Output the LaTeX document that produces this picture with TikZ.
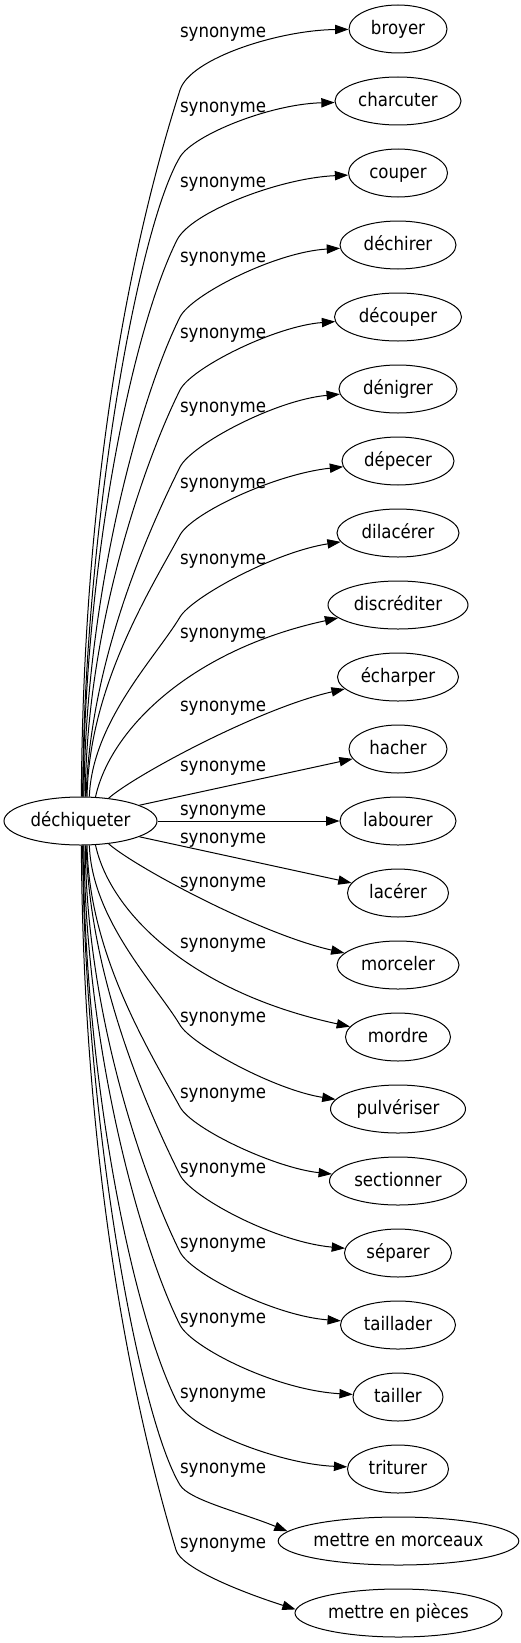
\documentclass[tikz,border=0pt]{standalone}
\usepackage{fontspec}
\newfontfamily\gvfont{DejaVu Sans}[FakeStretch=0.89]
\usetikzlibrary{arrows.meta,shapes.geometric}
\begin{document}
\begin{tikzpicture}[x=1pt,y=-1pt,
  every node/.style={font=\gvfont\fontsize{18.67}{22}\selectfont},
  word/.style={draw, ellipse, line width=1pt, inner sep=0pt, minimum height=48pt, text height=14pt, text depth=3pt},
  lbl/.style={anchor=base, inner sep=0pt},
  syn/.style={line width=1pt, -{Triangle[length=13.3pt,width=9.3pt]}}]
\useasboundingbox (0,0) rectangle (521,1643);
\node[word, minimum width=153pt] (src) at (80.5,821) {déchiqueter};
\node[word, minimum width=98pt]  (n1)  at (398,29)   {broyer};
\node[word, minimum width=126pt] (n2)  at (398,101)  {charcuter};
\node[word, minimum width=99pt]  (n3)  at (398,173)  {couper};
\node[word, minimum width=116pt] (n4)  at (398,245)  {déchirer};
\node[word, minimum width=127pt] (n5)  at (398,317)  {découper};
\node[word, minimum width=118pt] (n6)  at (398,389)  {dénigrer};
\node[word, minimum width=112pt] (n7)  at (398,461)  {dépecer};
\node[word, minimum width=122pt] (n8)  at (398,533)  {dilacérer};
\node[word, minimum width=140pt] (n9)  at (398,605)  {discréditer};
\node[word, minimum width=121pt] (n10) at (398,677)  {écharper};
\node[word, minimum width=98pt]  (n11) at (398,749)  {hacher};
\node[word, minimum width=116pt] (n12) at (398,821)  {labourer};
\node[word, minimum width=101pt] (n13) at (398,893)  {lacérer};
\node[word, minimum width=122pt] (n14) at (398,965)  {morceler};
\node[word, minimum width=105pt] (n15) at (398,1037) {mordre};
\node[word, minimum width=135pt] (n16) at (398,1109) {pulvériser};
\node[word, minimum width=137pt] (n17) at (398,1181) {sectionner};
\node[word, minimum width=107pt] (n18) at (398,1253) {séparer};
\node[word, minimum width=115pt] (n19) at (398,1325) {taillader};
\node[word, minimum width=90pt]  (n20) at (398,1397) {tailler};
\node[word, minimum width=101pt] (n21) at (398,1469) {triturer};
\node[word, minimum width=235pt] (n22) at (398.5,1541) {mettre en morceaux};
\node[word, minimum width=207pt] (n23) at (398.5,1613) {mettre en pièces};
% labels
\foreach \b [count=\i] in {38,113,187,262,338,412,488,564,638,711,771,815,843,887,948,1022,1098,1173,1248,1323,1398,1473,1548}
  \node[lbl] (l\i) at (223,\b) {synonyme};
% upper edges
\draw[syn] (src.88) .. controls (83,500) and (125.6,260) .. (180,90) .. controls (190.2,58) and (280,30) .. (n1);
\draw[syn] (src.85) .. controls (84,528) and (138,227) .. (180,157) .. controls (193.2,135) and (270,104) .. (n2);
\draw[syn] (src.84) .. controls (84.5,563) and (132,330) .. (177,240) .. controls (191,212) and (280,178) .. (n3);
\draw[syn] (src.82) .. controls (85.5,595) and (140,397) .. (180,317) .. controls (191,295) and (275,252) .. (n4);
\draw[syn] (src.79) .. controls (86.5,626) and (145,460) .. (180,390) .. controls (191,368) and (275,326) .. (n5);
\draw[syn] (src.77) .. controls (90,660) and (150,527) .. (180,467) .. controls (191,445) and (275,400) .. (n6);
\draw[syn] (src.75) .. controls (89,687) and (150,590) .. (180,535) .. controls (192,513) and (275,474) .. (n7);
\draw[syn] (src.70) .. controls (92,722) and (156,657) .. (180,617) .. controls (192,597) and (275,552) .. (n8);
\draw[syn] (src.58) .. controls (110,730) and (190,650) .. (n9);
\draw[syn] (src.39) .. controls (135,775) and (260,708) .. (n10);
\draw[syn] (src.15) -- (n11);
\draw[syn] (src) -- (n12);
% lower edges
\draw[syn] (src.-15) -- (n13);
\draw[syn] (src.-39) .. controls (135,867) and (260,934) .. (n14);
\draw[syn] (src.-58) .. controls (110,912) and (190,992) .. (n15);
\draw[syn] (src.-70) .. controls (92,920) and (156,985) .. (180,1025) .. controls (192,1045) and (275,1090) .. (n16);
\draw[syn] (src.-75) .. controls (89,955) and (150,1052) .. (180,1107) .. controls (192,1129) and (275,1168) .. (n17);
\draw[syn] (src.-77) .. controls (90,982) and (150,1115) .. (180,1175) .. controls (191,1197) and (275,1242) .. (n18);
\draw[syn] (src.-79) .. controls (86.5,1016) and (145,1182) .. (180,1252) .. controls (191,1274) and (275,1316) .. (n19);
\draw[syn] (src.-82) .. controls (85.5,1047) and (140,1245) .. (180,1325) .. controls (191,1347) and (275,1390) .. (n20);
\draw[syn] (src.-84) .. controls (84.5,1079) and (132,1312) .. (177,1402) .. controls (191,1430) and (280,1464) .. (n21);
\draw[syn] (src.-85) .. controls (84,1114) and (138,1415) .. (180,1485) .. controls (189,1500) and (240,1512) .. (n22.175);
\draw[syn] (src.-88) .. controls (83,1142) and (125.6,1382) .. (176,1550) .. controls (181,1567) and (235,1590) .. (n23.178);
\end{tikzpicture}
\end{document}
